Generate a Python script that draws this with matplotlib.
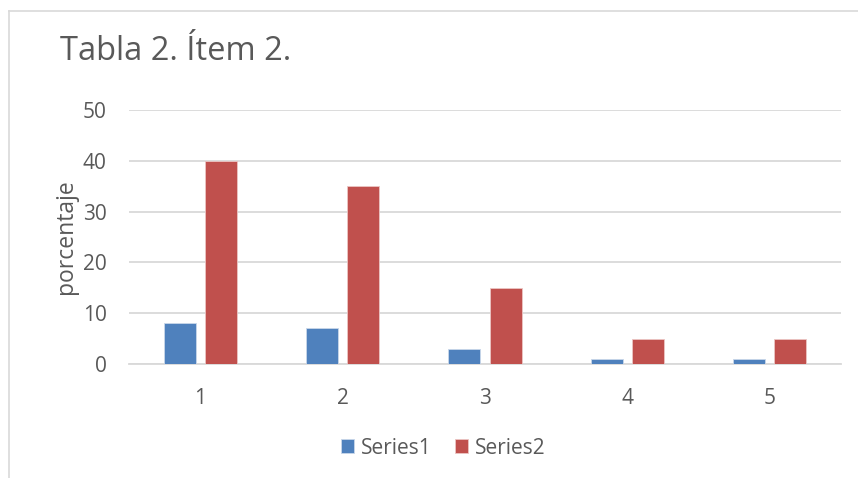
import numpy as np
import matplotlib.pyplot as plt

# datos
categorias = ['1', '2', '3', '4', '5']
series1 = [8, 7, 3, 1, 1]
series2 = [40, 35, 15, 5, 5]
yticks = [0, 10, 20, 30, 40, 50]

plt.rcParams['font.family'] = ['Open Sans', 'DejaVu Sans']
gris = '#595959'

fig = plt.figure(figsize=(8.58, 4.78), dpi=100)
ax = fig.add_axes([129/858, 1 - 364/478, 712/858, 254/478])

x = np.arange(1, len(categorias) + 1)
w = 0.225
ax.bar(x - 0.145, series1, w, color='#4F81BD', edgecolor='#c9d7ea', linewidth=0.6, label='Series1', zorder=3)
ax.bar(x + 0.145, series2, w, color='#C0504D', edgecolor='#ecc5c4', linewidth=0.6, label='Series2', zorder=3)

ax.set_xlim(0.5, 5.5)
ax.set_ylim(0, 50)
ax.set_yticks(yticks)
ax.set_xticks(x)
ax.set_xticklabels(categorias)
ax.grid(axis='y', color='#d9d9d9', linewidth=1.3, zorder=0)
for s in ['top', 'right', 'left']:
    ax.spines[s].set_visible(False)
ax.spines['bottom'].set_color('#d9d9d9')
ax.spines['bottom'].set_linewidth(1.3)
ax.tick_params(length=0, labelsize=15, colors=gris)
ax.tick_params(axis='y', pad=16)
ax.tick_params(axis='x', pad=17)
ax.set_ylabel('porcentaje', fontsize=16.5, color=gris)
ax.yaxis.set_label_coords(-0.0716, 0.5)

fig.text(60/858, 1 - 51/478, 'Tabla 2. Ítem 2.', fontsize=23.5, color=gris, va='center', ha='left')

leg = fig.legend(loc='center', bbox_to_anchor=(443.5/858, 1 - 448/478), ncol=2, frameon=False,
                 fontsize=15, handlelength=0.62, handleheight=0.62, columnspacing=1.1, handletextpad=0.35)
for t in leg.get_texts():
    t.set_color(gris)

# borde del area del grafico
fig.add_artist(plt.Line2D([9/858, 9/858], [0, 1 - 11/478], color='#d9d9d9', lw=1.2))
fig.add_artist(plt.Line2D([9/858, 1], [1 - 11/478, 1 - 11/478], color='#d9d9d9', lw=1.2))

fig.savefig('out.png', dpi=100)
